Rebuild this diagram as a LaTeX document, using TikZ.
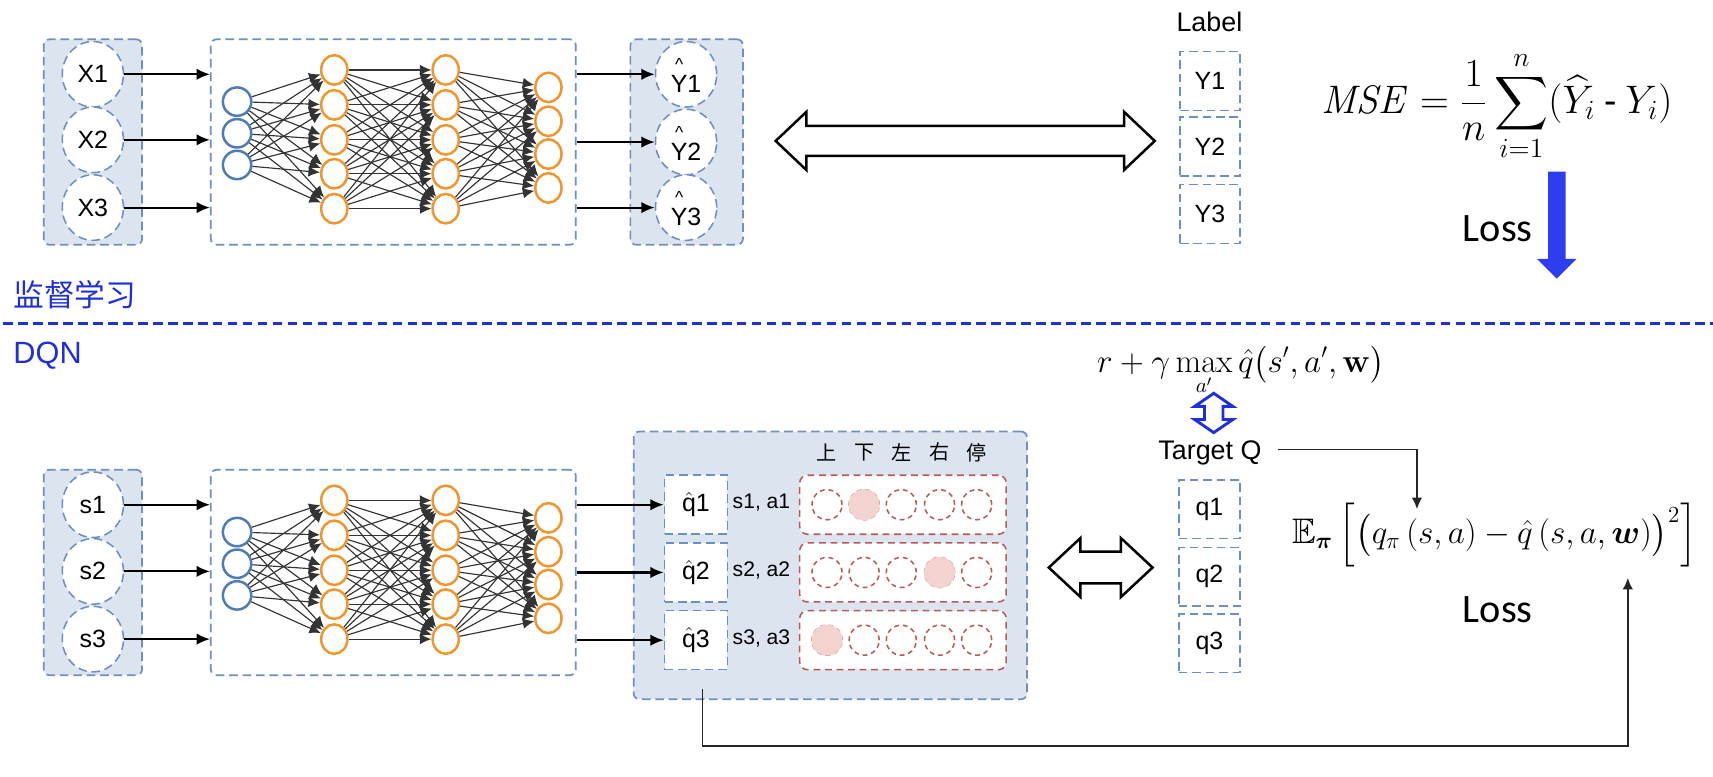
\documentclass[tikz,border=0pt]{standalone}
\usepackage{amsmath,amssymb,bm}
\usepackage{graphicx}
\usepackage[no-math]{fontspec}
\setmainfont{Liberation Sans}
\newfontfamily\cjk{Noto Sans CJK SC}
\newfontfamily\lossfont{Carlito}
\usetikzlibrary{arrows.meta,positioning,fit,shapes.geometric}

\definecolor{panelfill}{HTML}{DCE4EF}
\definecolor{paneledge}{HTML}{6F8FBF}
\definecolor{netorange}{HTML}{F0962F}
\definecolor{netblue}{HTML}{4F7CB5}
\definecolor{rowedge}{HTML}{B85A55}
\definecolor{rowpick}{HTML}{F2D3CF}
\definecolor{sepblue}{HTML}{1F30DA}
\definecolor{lossblue}{HTML}{2F3DF0}

\newcommand{\yhat}{$\stackrel{\text{\textasciicircum}}{\text{Y}}$}
\newcommand{\qhat}{$\hat{\text{q}}$}

\tikzset{
  dashedge/.style={dash pattern=on 4.5pt off 2.5pt},
  panel/.style={draw=paneledge, fill=panelfill, dashedge, line width=0.9pt,
    rounded corners=3pt, inner sep=0pt},
  netbox/.style={panel, fill=white},
  iounit/.style={ellipse, draw=paneledge, fill=white, dashedge, line width=0.8pt,
    minimum width=1.12cm, minimum height=1.2cm, inner sep=0pt,
    font=\fontsize{13}{15}\selectfont},
  cell/.style={rectangle, draw=paneledge, fill=white, dashedge, line width=0.8pt,
    minimum width=1.12cm, minimum height=1.08cm, inner sep=0pt,
    font=\fontsize{13}{15}\selectfont},
  neuron/.style={ellipse, line width=1.3pt, fill=white, minimum width=0.48cm,
    minimum height=0.54cm, inner sep=0pt},
  link/.style={draw=black!80, line width=0.6pt, -{Latex[length=6pt,width=5.5pt]}},
  feed/.style={line width=1.1pt, -{Latex[length=7pt,width=6pt]}},
  conn/.style={draw=black!85, line width=0.8pt, -{Latex[length=6pt,width=5.5pt]}},
  actrow/.style={draw=rowedge, fill=white, dash pattern=on 3.5pt off 2.5pt,
    line width=0.8pt, rounded corners=4pt, inner sep=0pt},
  slot/.style={circle, draw=rowedge, dash pattern=on 2.5pt off 2pt, line width=0.8pt,
    minimum size=0.55cm, inner sep=0pt},
  pick/.style={circle, fill=rowpick, minimum size=0.57cm, inner sep=0pt},
  hollow/.style={draw=black, line width=1.3pt, fill=white, line join=miter},
  tagtext/.style={font=\fontsize{11}{13}\selectfont},
  heading/.style={font=\fontsize{14}{16}\selectfont},
  losstext/.style={font=\lossfont\fontsize{21}{24}\selectfont},
  part/.style={text=sepblue, anchor=west, inner sep=0pt}
}

\begin{document}
\begin{tikzpicture}[x=0.02cm, y=-0.02cm]
\useasboundingbox (0,0) rectangle (1568,711);

% the two networks (top: supervised, bottom: DQN)
\foreach \p/\dy in {t/0, b/394}{
  \node[panel, fit={(40,{36+\dy}) (130,{224+\dy})}] (\p-in) {};
  \node[netbox, fit={(193,{36+\dy}) (527,{224+\dy})}] (\p-net) {};
  \foreach \k/\y in {1/93, 2/122, 3/151}
    \node[neuron, draw=netblue, minimum width=0.52cm, minimum height=0.52cm] (\p-i\k) at (217,{\y+\dy}) {};
  \foreach \k/\y in {1/64, 2/96, 3/128, 4/159, 5/191}{
    \node[neuron, draw=netorange] (\p-h\k) at (306,{\y+\dy}) {};
    \node[neuron, draw=netorange] (\p-g\k) at (408,{\y+\dy}) {};
  }
  \foreach \k/\y in {1/80, 2/111, 3/141, 4/172}
    \node[neuron, draw=netorange] (\p-o\k) at (502,{\y+\dy}) {};
  \foreach \a in {1,2,3}
    \foreach \b in {1,...,5}
      \draw[link] (\p-i\a) -- (\p-h\b);
  \foreach \a in {1,...,5}
    \foreach \b in {1,...,5}
      \draw[link] (\p-h\a) -- (\p-g\b);
  \foreach \a in {1,...,5}
    \foreach \b in {1,...,4}
      \draw[link] (\p-g\a) -- (\p-o\b);
}

% supervised learning
\foreach \k/\y in {1/68, 2/128, 3/190}{
  \node[iounit] (x\k) at (85,\y) {X\k};
  \draw[feed] (x\k) -- (x\k -| t-net.west);
}
\node[panel, fit={(577,36) (680,224)}] (t-out) {};
\foreach \k/\y in {1/68, 2/130, 3/190}{
  \node[iounit] (yh\k) at (628,\y) {\yhat\k};
  \draw[feed] (t-net.east |- yh\k) -- (yh\k);
}
\draw[hollow] (710,129) -- (738,102.5) -- (738,115.3) -- (1029,115.3) -- (1029,102.5)
  -- (1057,129) -- (1029,155.5) -- (1029,142.7) -- (738,142.7) -- (738,155.5) -- cycle;

\node[heading] (lbl) at (1107,20) {Label};
\foreach \k/\y in {1/74, 2/134, 3/196}
  \node[cell, minimum width=1.1cm] (y\k) at (1107.5,\y) {Y\k};

\node[font=\fontsize{19.5}{23}\selectfont] (mse) at (1370,97)
  {$\displaystyle \mathit{MSE}=\frac{1}{n}\sum_{i=1}^{n}(\widehat{Y}_i\mathbin{\mbox{-}}Y_i)$};
\node[losstext] (loss1) at (1371,209) {Loss};
\fill[lossblue] (1417,157) -- (1433,157) -- (1433,237) -- (1443,237) -- (1425,255)
  -- (1407,237) -- (1417,237) -- cycle;

% separator
\node[part, font=\cjk\fontsize{16}{18}\selectfont] (sup) at (12,270) {监督学习};
\draw[sepblue, line width=1.8pt, dash pattern=on 5pt off 2.8pt] (3,296) -- (1568,296);
\node[part, font=\fontsize{16}{18}\selectfont] (dqn) at (12,326) {DQN};

% DQN
\foreach \k/\y in {1/462, 2/523, 3/585}{
  \node[iounit] (s\k) at (85,\y) {s\k};
  \draw[feed] (s\k) -- (s\k -| b-net.west);
}
\node[panel, fit={(580,395) (940,640)}] (qpanel) {};
\foreach \ch/\x [count=\i] in {上/757, 下/791, 左/825, 右/860, 停/894}
  \node[font=\cjk\fontsize{10.5}{12}\selectfont] (act\i) at (\x,414) {\ch};
\foreach \k/\y in {1/462, 2/524, 3/586}{
  \node[cell, minimum width=1.15cm] (qh\k) at (637,\y) {\qhat\k};
  \draw[feed] (b-net.east |- qh\k) -- (qh\k);
  \node[tagtext] (sa\k) at (697,{\y-2}) {s\k, a\k};
  \node[actrow, fit={(732,{\y-27}) (921,{\y+27})}] (row\k) {};
  \foreach \c/\x in {1/757, 2/791, 3/825, 4/860, 5/894}
    \node[slot] (a\k\c) at (\x,\y) {};
}
\foreach \k/\c in {1/2, 2/4, 3/1}
  \node[pick] (p\k) at (a\k\c) {};

\draw[hollow] (960,519.5) -- (989,492.5) -- (989,505) -- (1026,505) -- (1026,492.5)
  -- (1055,519.5) -- (1026,546.5) -- (1026,534) -- (989,534) -- (989,546.5) -- cycle;

\node[font=\fontsize{16}{19}\selectfont, anchor=base west, inner sep=0pt] (tgt) at (1004,341)
  {$\displaystyle r+\gamma\max_{a'}\hat{q}\bigl(s', a', \mathbf{w}\bigr)$};
\draw[draw=sepblue, line width=1.5pt, fill=white] (1111,360) -- (1128.5,372) -- (1119.5,372)
  -- (1119.5,384) -- (1128.5,384) -- (1111,396) -- (1093.5,384) -- (1102.5,384)
  -- (1102.5,372) -- (1093.5,372) -- cycle;
\node[heading, anchor=base] (tq) at (1107.5,421) {Target Q};
\foreach \k/\y in {1/466, 2/528, 3/589}
  \node[cell, minimum width=1.12cm, minimum height=1.07cm] (q\k) at (1107,\y) {q\k};

\node[font=\fontsize{18.5}{22}\selectfont] (ef) at (1368,490)
  {$\mathbb{E}_{\bm{\pi}}\,\Bigl[\bigl(q_{\pi}\,(s,a)-\hat{q}\,(s,a,\bm{w})\bigr)^{2}\Bigr]$};
\node[losstext] (loss2) at (1371,558) {Loss};

\coordinate (tqin) at (1297,466);
\draw[conn] ([xshift=5pt,yshift=2pt]tq.east) -| (tqin);
\coordinate (qout) at (643,631);
\coordinate (ein) at (1490,529);
\draw[conn] (qout) -- ++(0,52) -| (ein);
\end{tikzpicture}
\end{document}
